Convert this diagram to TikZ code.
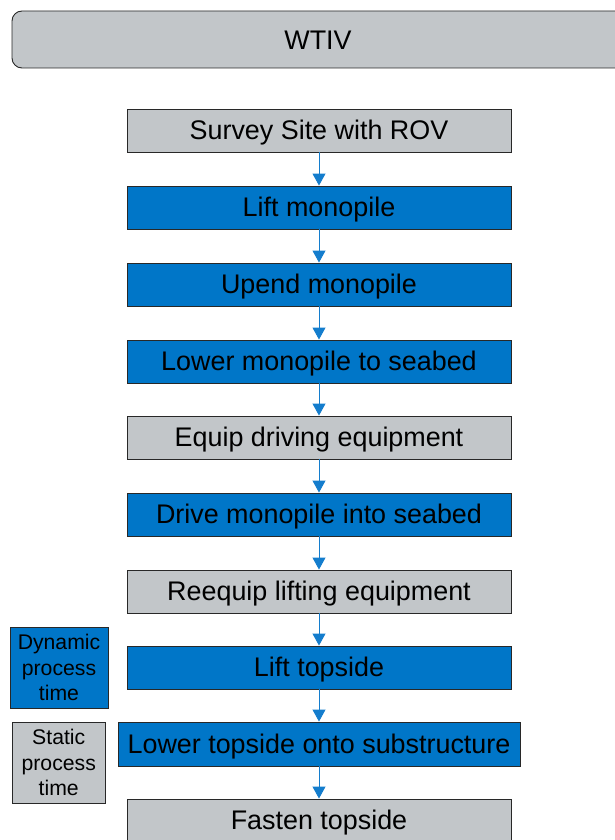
\documentclass[tikz,border=0pt]{standalone}
\usepackage{fontspec}
\setmainfont{Liberation Sans}
\usetikzlibrary{arrows.meta}
\definecolor{dynblue}{RGB}{0,118,200}
\definecolor{statgray}{RGB}{194,198,201}
\definecolor{edgegray}{RGB}{40,40,40}
\definecolor{arrblue}{RGB}{20,125,205}
\begin{document}
\begin{tikzpicture}[x=1pt,y=-1pt,
  base/.style={draw=edgegray,line width=0.9pt,inner sep=0pt,minimum height=43pt,font=\fontsize{26.9}{31}\selectfont,text=black,text depth=1pt},
  dynbox/.style={base,fill=dynblue,minimum width=384pt},
  statbox/.style={base,fill=statgray,minimum width=384pt},
  legbox/.style={draw=edgegray,line width=0.9pt,inner sep=0pt,align=center,font=\fontsize{21.2}{25.5}\selectfont,text=black},
  flow/.style={draw=arrblue,line width=0.9pt,-{Triangle[length=12pt,width=13pt]}}]
\useasboundingbox (0,0) rectangle (615,840);
\node[draw=edgegray,line width=0.9pt,fill=statgray,rounded corners=10pt,minimum width=613pt,minimum height=57pt,inner sep=0pt] (wtiv) at (318.5,39.5) {};
\node[font=\fontsize{26.9}{31}\selectfont,text depth=1pt] (wtivt) at (318,40.5) {WTIV};
\node[statbox] (s1) at (319,130.5) {Survey Site with ROV};
\node[dynbox] (s2) at (319,207.5) {Lift monopile};
\node[dynbox] (s3) at (319,284.5) {Upend monopile};
\node[dynbox] (s4) at (319,361.5) {Lower monopile to seabed};
\node[statbox] (s5) at (319,437.5) {Equip driving equipment};
\node[dynbox] (s6) at (319,514.5) {Drive monopile into seabed};
\node[statbox] (s7) at (319,591.5) {Reequip lifting equipment};
\node[dynbox] (s8) at (319,667.5) {Lift topside};
\node[dynbox,minimum width=402pt,minimum height=44pt] (s9) at (319,744) {Lower topside onto substructure};
\node[statbox] (s10) at (319,820.5) {Fasten topside};
\foreach \a/\b in {s1/s2,s2/s3,s3/s4,s4/s5,s5/s6,s6/s7,s7/s8,s8/s9,s9/s10}
  \draw[flow] (\a.south) -- (\b.north);
\node[legbox,fill=dynblue,minimum width=98pt,minimum height=81pt] (ld) at (59,667.5) {Dynamic\\process\\time};
\node[legbox,fill=statgray,minimum width=92.5pt,minimum height=81pt] (ls) at (58.75,762.5) {Static\\process\\time};
\end{tikzpicture}
\end{document}
